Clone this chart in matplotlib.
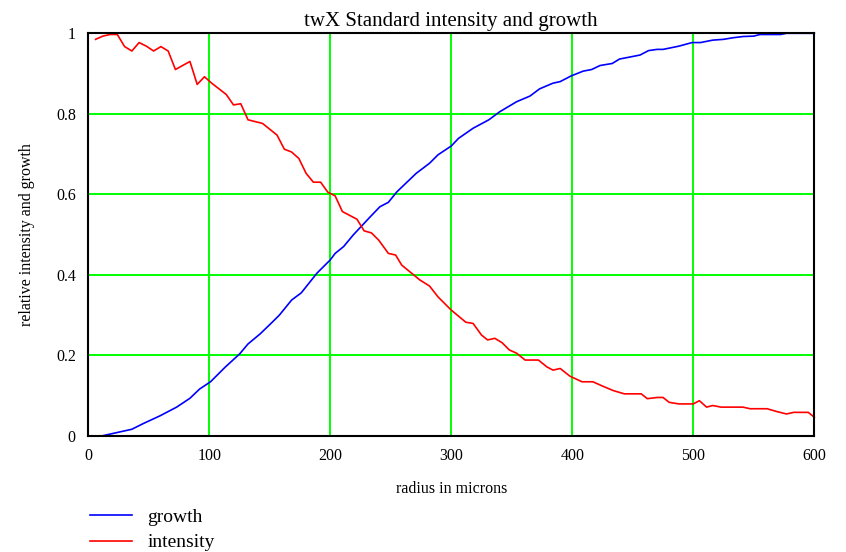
import matplotlib
matplotlib.use("Agg")
import matplotlib.pyplot as plt

# growth curve samples (radius in microns, relative value)
growth_r = [12, 24, 36, 46, 59, 73, 84, 92, 101, 113, 125, 132, 142, 152, 158,
            168, 176, 189, 200, 204, 211, 219, 233, 241, 248, 255, 271, 282,
            289, 300, 306, 318, 331, 340, 354, 365, 373, 384, 390, 399, 409,
            416, 423, 433, 439, 456, 463, 470, 475, 488, 499, 506, 516, 525,
            533, 541, 550, 555, 572, 577, 600]
growth_v = [0.0, 0.008, 0.016, 0.031, 0.049, 0.071, 0.093, 0.116, 0.134, 0.170,
            0.203, 0.228, 0.253, 0.282, 0.300, 0.337, 0.355, 0.404, 0.437,
            0.453, 0.470, 0.499, 0.544, 0.569, 0.580, 0.606, 0.652, 0.677,
            0.698, 0.720, 0.739, 0.764, 0.785, 0.805, 0.830, 0.844, 0.862,
            0.876, 0.880, 0.894, 0.906, 0.910, 0.920, 0.925, 0.936, 0.946,
            0.957, 0.960, 0.960, 0.968, 0.977, 0.977, 0.983, 0.985, 0.989,
            0.992, 0.993, 0.997, 0.997, 1.0, 1.0]

# intensity curve samples
intensity_r = [6, 12, 18, 24, 30, 36, 42, 48, 54, 60, 66, 72, 84, 90, 96, 102,
               108, 114, 120, 126, 132, 144, 156, 162, 168, 174, 180, 186, 192,
               198, 204, 210, 222, 228, 234, 240, 248, 254, 259, 274, 282, 289,
               300, 312, 318, 325, 330, 336, 342, 348, 354, 361, 372, 379, 384,
               390, 398, 408, 417, 426, 434, 443, 457, 462, 470, 475, 480, 488,
               500, 505, 511, 516, 523, 541, 547, 561, 569, 577, 583, 595, 600]
intensity_v = [0.985, 0.993, 0.997, 0.997, 0.967, 0.956, 0.977, 0.968, 0.956,
               0.967, 0.956, 0.910, 0.930, 0.873, 0.892, 0.876, 0.862, 0.848,
               0.822, 0.825, 0.785, 0.776, 0.747, 0.712, 0.705, 0.689, 0.652,
               0.630, 0.630, 0.605, 0.596, 0.557, 0.538, 0.509, 0.504, 0.486,
               0.453, 0.449, 0.424, 0.387, 0.372, 0.345, 0.312, 0.282, 0.279,
               0.250, 0.238, 0.242, 0.231, 0.213, 0.205, 0.188, 0.188, 0.171,
               0.163, 0.167, 0.148, 0.134, 0.134, 0.122, 0.112, 0.104, 0.104,
               0.092, 0.095, 0.095, 0.083, 0.079, 0.079, 0.087, 0.071, 0.075,
               0.071, 0.071, 0.067, 0.067, 0.060, 0.054, 0.058, 0.058, 0.046]

x_ticks = [0, 100, 200, 300, 400, 500, 600]
y_ticks = [0, 0.2, 0.4, 0.6, 0.8, 1.0]
y_tick_labels = ["0", "0.2", "0.4", "0.6", "0.8", "1"]

plt.rcParams["font.family"] = ["Liberation Serif", "DejaVu Serif"]

W, H = 846, 552
fig = plt.figure(figsize=(W / 100, H / 100), dpi=100)
ax = fig.add_axes([88.3 / W, 1 - 435.7 / H, (814.3 - 88.3) / W, (435.7 - 33.3) / H])

ax.set_xlim(0, 600)
ax.set_ylim(0, 1)
ax.set_xticks(x_ticks)
ax.set_yticks(y_ticks)
ax.set_yticklabels(y_tick_labels)
ax.grid(True, color="#00ff00", linewidth=1.4)
ax.set_axisbelow(True)
ax.tick_params(length=0, labelsize=11.5, pad=9)
for s in ax.spines.values():
    s.set_linewidth(1.5)
    s.set_color("#000000")

lg, = ax.plot(growth_r, growth_v, color="#0000ff", linewidth=1.2, label="growth")
li, = ax.plot(intensity_r, intensity_v, color="#ff0000", linewidth=1.2, label="intensity")
for ln in (lg, li):
    ln.set_clip_on(False)

ax.set_title("twX Standard intensity and growth", fontsize=15, pad=5)
ax.set_xlabel("radius in microns", fontsize=11.5, labelpad=12)
ax.set_ylabel("relative intensity and growth", fontsize=11.5, labelpad=15)

fig.legend(handles=[lg, li], loc="upper left", bbox_to_anchor=(90 / W, 1 - 508 / H),
           frameon=False, fontsize=14, handlelength=2.15, handletextpad=0.8,
           labelspacing=0.42, borderaxespad=0, borderpad=0)

fig.savefig("out.png", dpi=100)
